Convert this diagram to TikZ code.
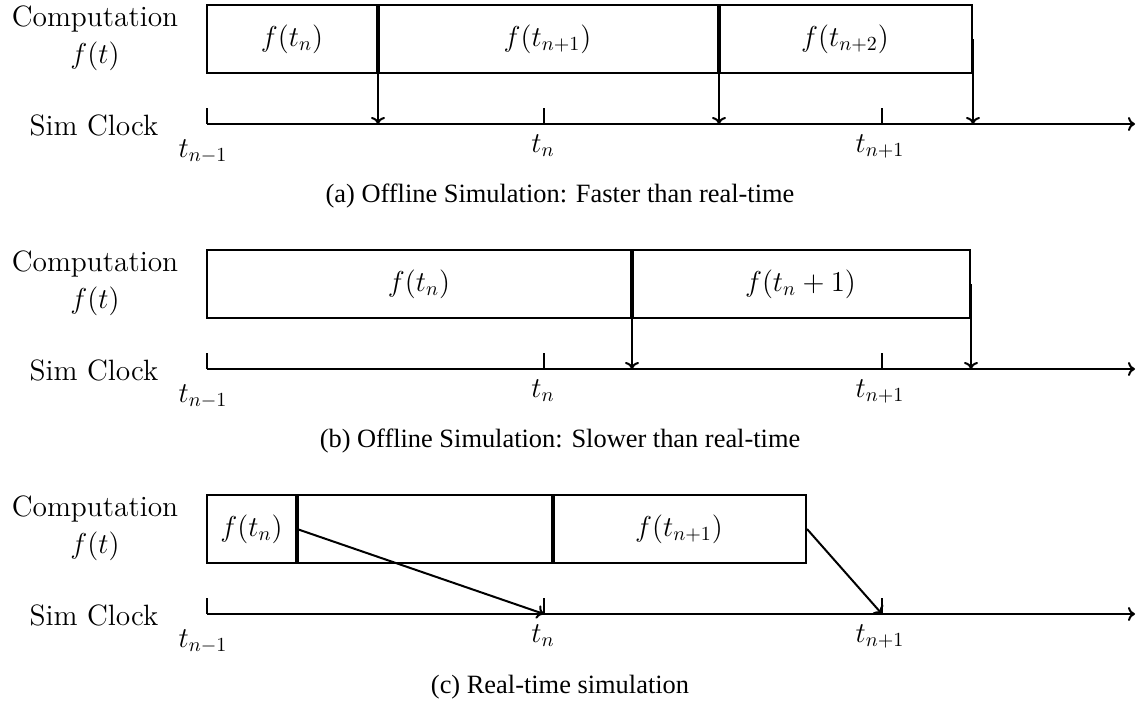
\documentclass[tikz,border=0pt]{standalone}
\usepackage{fontspec}
\newfontfamily\capfont{Liberation Serif}
\usetikzlibrary{arrows.meta,fit}
\begin{document}
\begin{tikzpicture}[x=0.5pt,y=-0.5pt,
  lbl/.style={font=\fontsize{14.7}{18.5}\selectfont, inner sep=0pt},
  cbox/.style={draw, line width=1pt, inner sep=0pt},
  div/.style={line width=2.2pt},
  axisline/.style={line width=1pt, -{To[length=3.5pt,width=7pt]}},
  tickline/.style={line width=1pt},
  arr/.style={line width=1pt, -{To[length=3.5pt,width=7pt]}},
  captxt/.style={font=\capfont\fontsize{13.2}{15}\selectfont, inner sep=0pt}]
\useasboundingbox (0,0) rectangle (1142,702);

% ---------- panel (a)
\node[lbl, align=center] (compA) at (95,38) {Computation\\$f(t)$};
\node[lbl] (simA) at (94,125) {Sim Clock};
\node[cbox, fit={(207,5) (377,73)}] (a1) {};
\node[cbox, fit={(377,5) (718,73)}] (a2) {};
\node[cbox, fit={(718,5) (972,73)}] (a3) {};
\node[lbl] (a1t) at (a1.center) {$f(t_n)$};
\node[lbl] (a2t) at (a2.center) {$f(t_{n+1})$};
\node[lbl] (a3t) at (a3.center) {$f(t_{n+2})$};
\coordinate (a0) at (207,124);
\coordinate (aE) at (1135,124);
\coordinate (aT1) at (544,124);
\coordinate (aT2) at (882,124);
\draw[tickline] (a0) -- ++(0,-16);
\draw[tickline] (aT1) -- ++(0,-16);
\draw[tickline] (aT2) -- ++(0,-16);
\draw[axisline] (a0) -- (aE);
\draw[div] (a1.north east) -- (a1.south east);
\draw[div] (a2.north east) -- (a2.south east);
\draw[arr] (a1.east) -- (a1.east |- a0);
\draw[arr] (a2.east) -- (a2.east |- a0);
\draw[arr] (a3.east) -- (a3.east |- a0);
\node[lbl, anchor=base] (aL0) at (203,157) {$t_{n-1}$};
\node[lbl, anchor=base] (aL1) at (543,152) {$t_n$};
\node[lbl, anchor=base] (aL2) at (880,152) {$t_{n+1}$};
\node[captxt] (capA) at (560,196) {(a) Offline Simulation: Faster than real-time};

% ---------- panel (b)
\node[lbl, align=center] (compB) at (95,283) {Computation\\$f(t)$};
\node[lbl] (simB) at (94,370) {Sim Clock};
\node[cbox, fit={(207,250) (631,318)}] (b1) {};
\node[cbox, fit={(631,250) (970,318)}] (b2) {};
\node[lbl] (b1t) at (b1.center) {$f(t_n)$};
\node[lbl] (b2t) at (b2.center) {$f(t_n+1)$};
\coordinate (b0) at (207,369);
\coordinate (bE) at (1135,369);
\coordinate (bT1) at (544,369);
\coordinate (bT2) at (882,369);
\draw[tickline] (b0) -- ++(0,-16);
\draw[tickline] (bT1) -- ++(0,-16);
\draw[tickline] (bT2) -- ++(0,-16);
\draw[axisline] (b0) -- (bE);
\draw[div] (b1.north east) -- (b1.south east);
\draw[arr] (b1.east) -- (b1.east |- b0);
\draw[arr] (b2.east) -- (b2.east |- b0);
\node[lbl, anchor=base] (bL0) at (203,402) {$t_{n-1}$};
\node[lbl, anchor=base] (bL1) at (543,397) {$t_n$};
\node[lbl, anchor=base] (bL2) at (880,397) {$t_{n+1}$};
\node[captxt] (capB) at (560,441) {(b) Offline Simulation: Slower than real-time};

% ---------- panel (c)
\node[lbl, align=center] (compC) at (95,528) {Computation\\$f(t)$};
\node[lbl] (simC) at (94,615) {Sim Clock};
\node[cbox, fit={(207,495) (296,563)}] (c1) {};
\node[cbox, fit={(296,495) (552,563)}] (c2) {};
\node[cbox, fit={(552,495) (806,563)}] (c3) {};
\node[lbl] (c1t) at (c1.center) {$f(t_n)$};
\node[lbl] (c3t) at (c3.center) {$f(t_{n+1})$};
\coordinate (c0) at (207,614);
\coordinate (cE) at (1135,614);
\coordinate (cT1) at (544,614);
\coordinate (cT2) at (882,614);
\draw[tickline] (c0) -- ++(0,-16);
\draw[tickline] (cT1) -- ++(0,-16);
\draw[tickline] (cT2) -- ++(0,-16);
\draw[axisline] (c0) -- (cE);
\draw[div] (c1.north east) -- (c1.south east);
\draw[div] (c2.north east) -- (c2.south east);
\draw[arr] (c1.east) -- (cT1);
\draw[arr] (c3.east) -- (cT2);
\node[lbl, anchor=base] (cL0) at (203,647) {$t_{n-1}$};
\node[lbl, anchor=base] (cL1) at (543,642) {$t_n$};
\node[lbl, anchor=base] (cL2) at (880,642) {$t_{n+1}$};
\node[captxt] (capC) at (560,687) {(c) Real-time simulation};
\end{tikzpicture}
\end{document}
